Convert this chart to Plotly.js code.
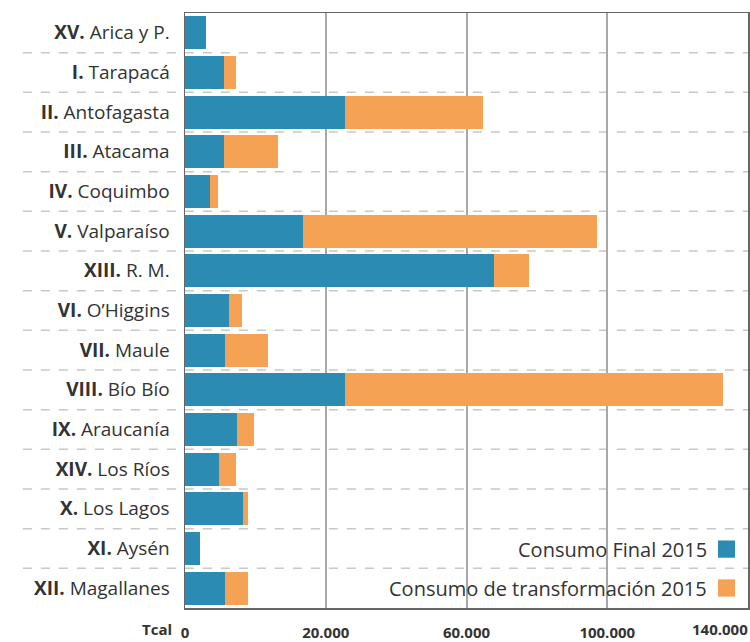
<!DOCTYPE html>
<html><head><meta charset="utf-8">
<script src="https://cdn.plot.ly/plotly-3.0.1.min.js"></script>
<style>html,body{margin:0;padding:0;background:#fff}</style>
</head><body><div id="chart" style="width:750px;height:642px"></div>
<script>
const numerals = ["XV.","I.","II.","III.","IV.","V.","XIII.","VI.","VII.","VIII.","IX.","XIV.","X.","XI.","XII."];
const regions = ["Arica y P.","Tarapacá","Antofagasta","Atacama","Coquimbo","Valparaíso","R. M.","O’Higgins","Maule","Bío Bío","Araucanía","Los Ríos","Los Lagos","Aysén","Magallanes"];
const consumoFinal = [6000,11100,45400,11100,7100,33500,87900,12500,11400,45400,14700,9600,16400,4300,11400];
const consumoTransf = [0,3400,39400,15300,2300,83700,9900,3700,12200,107500,4800,4800,1400,0,6500];
const seriesNames = ["Consumo Final 2015","Consumo de transformación 2015"];
const seriesColors = ["#2B8BB2","#F6A255"];
const tickVals = [0,40000,80000,120000];
const tickText = ["0","20.000","60.000","100.000"];
const lastTick = "140.000";
const axisUnit = "Tcal";

const FONT = "'Open Sans', sans-serif";
const cats = numerals.map((n,i)=>"<b>"+n+"</b> "+regions[i]);
const traces = [consumoFinal, consumoTransf].map((v,k)=>({
  type:"bar", orientation:"h", y:cats, x:v, name:seriesNames[k],
  marker:{color:seriesColors[k]}, hoverinfo:"x+name"
}));

const n = cats.length;
const shapes = [];
for (let i=1;i<n;i++){
  shapes.push({type:"line", xref:"paper", yref:"paper", x0:-0.288, x1:1, y0:i/n, y1:i/n,
    line:{color:"#c8c8c8", width:1.5, dash:"dash"}, layer:"below"});
}
const legY = [0.099, 0.0336];
const annotations = [];
seriesNames.forEach((nm,k)=>{
  annotations.push({xref:"paper", yref:"paper", x:0.93, y:legY[k], xanchor:"right", yanchor:"middle",
    text:nm, showarrow:false, font:{family:FONT, size:20, color:"#333"}});
  shapes.push({type:"rect", xref:"paper", yref:"paper", x0:0.9467, x1:0.9769, y0:legY[k]-0.0145, y1:legY[k]+0.0145,
    fillcolor:seriesColors[k], line:{width:0}});
});
annotations.push({xref:"paper", yref:"paper", x:1, y:-0.036, xanchor:"right", yanchor:"middle", xshift:2,
  text:"<b>"+lastTick+"</b>", showarrow:false, font:{family:FONT, size:15, color:"#333"}});
annotations.push({xref:"paper", yref:"paper", x:0, y:-0.036, xanchor:"right", yanchor:"middle", xshift:-11,
  text:"<b>"+axisUnit+"</b>", showarrow:false, font:{family:FONT, size:15, color:"#333"}});

const layout = {
  width:750, height:642, barmode:"stack", bargap:0.17, showlegend:false,
  margin:{l:185, r:2, t:13, b:34},
  paper_bgcolor:"#fff", plot_bgcolor:"#fff",
  font:{family:FONT, color:"#333"},
  xaxis:{range:[0,160000], tickvals:tickVals, ticktext:tickText.map(t=>"<b>"+t+"</b>"),
    showgrid:true, gridcolor:"#a8a8a8", gridwidth:2, zeroline:false,
    showline:true, mirror:true, linecolor:"#666", linewidth:1.5,
    ticks:"", ticklabelstandoff:10, tickfont:{size:15, color:"#333"}, fixedrange:true},
  yaxis:{autorange:"reversed", type:"category", showgrid:false, zeroline:false,
    showline:true, mirror:true, linecolor:"#666", linewidth:1.5,
    ticks:"", ticklabelstandoff:10, tickfont:{size:19, color:"#333"}, fixedrange:true},
  shapes:shapes, annotations:annotations
};
Plotly.newPlot("chart", traces, layout, {displayModeBar:false, staticPlot:true});
</script></body></html>
